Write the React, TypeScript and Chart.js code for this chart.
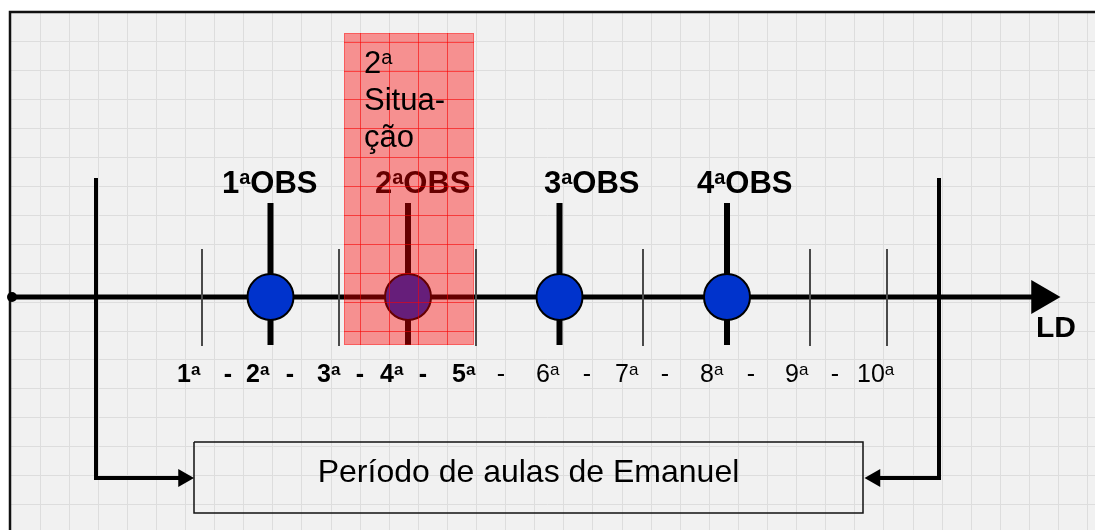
import React, { useEffect, useRef } from 'react';
import { Chart, registerables } from 'chart.js';

Chart.register(...registerables);

// ---------- data (timeline units on the x scale, vertical units on the y scale) ----------
const axisY = 297;
const axisStart = 12;
const axisEnd = 1040;
const arrowTipCenter = 1041;

const tickPositions = [202, 339, 476, 643, 810, 887];
const tickRange = [249, 346];

const obsPositions = [270.5, 408, 559.5, 727];
const obsLineRange = [203, 345];
const obsLabels = ['1ªOBS', '2ªOBS', '3ªOBS', '4ªOBS'];
const obsLabelLeft = [222, 375, 544, 697];
const obsLabelBaseline = 193;

const lessonLabels = ['1ª', '2ª', '3ª', '4ª', '5ª', '6ª', '7ª', '8ª', '9ª', '10ª'];
const lessonLabelLeft = [177, 246, 317, 380, 452, 536, 615, 700, 785, 857];
const lessonBold = [true, true, true, true, true, false, false, false, false, false];
const dashCenters = [228, 290, 360, 423, 501, 587, 665, 751, 835];
const dashBold = [true, true, true, true, false, false, false, false, false];
const lessonBaseline = 382;

const bracketX = [96, 939];
const bracketTop = 178;
const bracketBottom = 478;
const bracketEnds = [180, 878];
const smallArrowCenters = [183.5, 875];

const boxX = [194, 863];
const boxY = [442, 513];
const boxText = 'Período de aulas de Emanuel';
const boxTextBaseline = 482;

const situationX = [344, 474];
const situationY = [33, 345];
const situationLines = ['2ª', 'Situa-', 'ção'];
const situationBaselines = [73, 110, 147];
const situationTextLeft = 364;

const ldLabel = 'LD';
const ldLeft = 1036;
const ldBaseline = 337;

// ---------- styling ----------
const FONT = '"Liberation Sans", Arial, Helvetica, sans-serif';
const GRID_X0 = 10.9;
const GRID_DX = 29.1;
const GRID_Y0 = 12.6;
const GRID_DY = 28.95;
const W = 1095;
const H = 530;

const gridXs: number[] = [];
for (let v = GRID_X0; v <= W; v += GRID_DX) gridXs.push(v);
const gridYs: number[] = [];
for (let v = GRID_Y0; v <= H; v += GRID_DY) gridYs.push(v);

function drawSup(
  ctx: CanvasRenderingContext2D,
  text: string,
  x: number,
  y: number,
  size: number,
  weight: string,
  color: string,
  align: 'left' | 'center'
) {
  const parts = text.split(/(ª)/).filter((p) => p.length > 0);
  const supSize = Math.round(size * 0.66);
  const mainFont = `${weight} ${size}px ${FONT}`;
  const supFont = `${weight} ${supSize}px ${FONT}`;
  const widths = parts.map((p) => {
    ctx.font = p === 'ª' ? supFont : mainFont;
    return ctx.measureText(p === 'ª' ? 'a' : p).width;
  });
  const total = widths.reduce((a, b) => a + b, 0);
  let cx = align === 'center' ? x - total / 2 : x;
  ctx.fillStyle = color;
  ctx.textBaseline = 'alphabetic';
  ctx.textAlign = 'left';
  parts.forEach((p, i) => {
    if (p === 'ª') {
      ctx.font = supFont;
      ctx.fillText('a', cx, y - size * 0.3);
    } else {
      ctx.font = mainFont;
      ctx.fillText(p, cx, y);
    }
    cx += widths[i];
  });
}

const diagramPlugin = {
  id: 'diagram',
  beforeDraw(chart: any) {
    const ctx = chart.ctx;
    ctx.save();
    ctx.fillStyle = '#ffffff';
    ctx.fillRect(0, 0, chart.width, chart.height);
    ctx.fillStyle = '#f1f1f1';
    ctx.fillRect(10, 12, chart.width - 10, chart.height - 12);
    ctx.restore();
  },
  beforeDatasetsDraw(chart: any) {
    const ctx = chart.ctx;
    ctx.save();
    ctx.fillStyle = '#ffffff';
    ctx.fillRect(0, 0, chart.width, 11);
    ctx.fillRect(0, 0, 9, chart.height);
    ctx.strokeStyle = '#111111';
    ctx.lineWidth = 2.5;
    ctx.beginPath();
    ctx.moveTo(10, chart.height);
    ctx.lineTo(10, 12);
    ctx.lineTo(chart.width, 12);
    ctx.stroke();
    ctx.restore();
  },
  afterDatasetsDraw(chart: any) {
    const ctx = chart.ctx;
    const xs = chart.scales.x;
    const ys = chart.scales.y;
    const X = (v: number) => xs.getPixelForValue(v);
    const Y = (v: number) => ys.getPixelForValue(v);
    ctx.save();

    // observation labels
    obsLabels.forEach((t, i) => {
      drawSup(ctx, t, X(obsLabelLeft[i]), Y(obsLabelBaseline), 31, 'bold', '#000000', 'left');
    });

    // lesson labels and dashes
    lessonLabels.forEach((t, i) => {
      drawSup(ctx, t, X(lessonLabelLeft[i]), Y(lessonBaseline), 25, lessonBold[i] ? 'bold' : 'normal', '#000000', 'left');
    });
    dashCenters.forEach((c, i) => {
      drawSup(ctx, '-', X(c), Y(lessonBaseline), 25, dashBold[i] ? 'bold' : 'normal', '#000000', 'center');
    });

    // LD
    ctx.font = `bold 30px ${FONT}`;
    ctx.fillStyle = '#000000';
    ctx.textAlign = 'left';
    ctx.textBaseline = 'alphabetic';
    ctx.fillText(ldLabel, X(ldLeft), Y(ldBaseline));

    // box text
    ctx.font = `normal 32px ${FONT}`;
    ctx.textAlign = 'center';
    ctx.fillText(boxText, X((boxX[0] + boxX[1]) / 2), Y(boxTextBaseline));

    // red overlay for "2ª Situação"
    const rx0 = X(situationX[0]);
    const rx1 = X(situationX[1]);
    const ry0 = Y(situationY[0]);
    const ry1 = Y(situationY[1]);
    ctx.fillStyle = 'rgba(255,0,0,0.4)';
    ctx.fillRect(rx0, ry0, rx1 - rx0, ry1 - ry0);
    ctx.strokeStyle = 'rgba(255,0,0,0.55)';
    ctx.lineWidth = 1;
    ctx.beginPath();
    gridXs.forEach((g) => {
      if (g > rx0 && g < rx1) {
        ctx.moveTo(Math.round(g) + 0.5, ry0);
        ctx.lineTo(Math.round(g) + 0.5, ry1);
      }
    });
    gridYs.forEach((g) => {
      if (g > ry0 && g < ry1) {
        ctx.moveTo(rx0, Math.round(g) + 0.5);
        ctx.lineTo(rx1, Math.round(g) + 0.5);
      }
    });
    ctx.stroke();
    ctx.strokeStyle = 'rgba(255,0,0,0.35)';
    ctx.strokeRect(rx0 + 0.5, ry0 + 0.5, rx1 - rx0 - 1, ry1 - ry0 - 1);

    situationLines.forEach((t, i) => {
      drawSup(ctx, t, X(situationTextLeft), Y(situationBaselines[i]), 31, 'normal', '#000000', 'left');
    });

    ctx.restore();
  },
};

function seg(x0: number, y0: number, x1: number, y1: number) {
  return [
    { x: x0, y: y0 },
    { x: x1, y: y1 },
  ];
}

export default function App() {
  const ref = useRef<HTMLCanvasElement | null>(null);

  useEffect(() => {
    if (!ref.current) return;
    const lineDs = (data: any[], width: number, color: string, order = 10) => ({
      data,
      showLine: true,
      borderColor: color,
      borderWidth: width,
      pointRadius: 0,
      fill: false,
      tension: 0,
      order,
      borderCapStyle: 'butt',
      borderJoinStyle: 'miter',
    });

    const datasets: any[] = [];
    // main axis
    datasets.push(lineDs(seg(axisStart, axisY, axisEnd, axisY), 5, '#000000', 12));
    // thin lesson ticks
    tickPositions.forEach((t) => datasets.push(lineDs(seg(t, tickRange[0], t, tickRange[1]), 2, '#4a4a4a', 11)));
    // observation lines
    obsPositions.forEach((p) => datasets.push(lineDs(seg(p, obsLineRange[0], p, obsLineRange[1]), 6, '#000000', 9)));
    // brackets
    datasets.push(
      lineDs(
        [
          { x: bracketX[0], y: bracketTop },
          { x: bracketX[0], y: bracketBottom },
          { x: bracketEnds[0], y: bracketBottom },
        ],
        4,
        '#000000',
        9
      )
    );
    datasets.push(
      lineDs(
        [
          { x: bracketX[1], y: bracketTop },
          { x: bracketX[1], y: bracketBottom },
          { x: bracketEnds[1], y: bracketBottom },
        ],
        4,
        '#000000',
        9
      )
    );
    // box
    datasets.push(
      lineDs(
        [
          { x: boxX[0], y: boxY[0] },
          { x: boxX[1], y: boxY[0] },
          { x: boxX[1], y: boxY[1] },
          { x: boxX[0], y: boxY[1] },
          { x: boxX[0], y: boxY[0] },
        ],
        1.5,
        '#111111',
        9
      )
    );
    // start dot
    datasets.push({
      data: [{ x: axisStart, y: axisY }],
      showLine: false,
      pointRadius: 5,
      pointStyle: 'circle',
      backgroundColor: '#000000',
      borderColor: '#000000',
      borderWidth: 0,
      order: 3,
    });
    // axis arrow head
    datasets.push({
      data: [{ x: arrowTipCenter, y: axisY }],
      showLine: false,
      pointRadius: 19.5,
      pointStyle: 'triangle',
      rotation: 90,
      backgroundColor: '#000000',
      borderColor: '#000000',
      borderWidth: 0,
      order: 3,
    });
    // small arrow heads into the box
    datasets.push({
      data: [{ x: smallArrowCenters[0], y: bracketBottom }],
      showLine: false,
      pointRadius: 10.5,
      pointStyle: 'triangle',
      rotation: 90,
      backgroundColor: '#000000',
      borderWidth: 0,
      order: 3,
    });
    datasets.push({
      data: [{ x: smallArrowCenters[1], y: bracketBottom }],
      showLine: false,
      pointRadius: 10.5,
      pointStyle: 'triangle',
      rotation: -90,
      backgroundColor: '#000000',
      borderWidth: 0,
      order: 3,
    });
    // observation circles
    datasets.push({
      data: obsPositions.map((p) => ({ x: p, y: axisY })),
      showLine: false,
      pointRadius: 23,
      pointStyle: 'circle',
      backgroundColor: '#0033cc',
      borderColor: '#000000',
      borderWidth: 2,
      order: 1,
    });

    const chart = new Chart(ref.current, {
      type: 'scatter',
      data: { datasets },
      options: {
        responsive: false,
        animation: false,
        events: [],
        layout: { padding: 0, autoPadding: false },
        plugins: {
          legend: { display: false },
          tooltip: { enabled: false },
        },
        scales: {
          x: {
            type: 'linear',
            min: 0,
            max: W,
            afterBuildTicks: (scale: any) => {
              scale.ticks = gridXs.map((v) => ({ value: v }));
            },
            ticks: { display: false },
            grid: { color: '#dddddd', lineWidth: 1, drawTicks: false },
            border: { display: false },
          },
          y: {
            type: 'linear',
            reverse: true,
            min: 0,
            max: H,
            afterBuildTicks: (scale: any) => {
              scale.ticks = gridYs.map((v) => ({ value: v }));
            },
            ticks: { display: false },
            grid: { color: '#dddddd', lineWidth: 1, drawTicks: false },
            border: { display: false },
          },
        },
      } as any,
      plugins: [diagramPlugin],
    });
    return () => chart.destroy();
  }, []);

  return (
    <div style={{ position: 'absolute', left: 0, top: 0, width: W, height: H }}>
      <canvas ref={ref} width={W} height={H} style={{ display: 'block', width: W, height: H }} />
    </div>
  );
}
